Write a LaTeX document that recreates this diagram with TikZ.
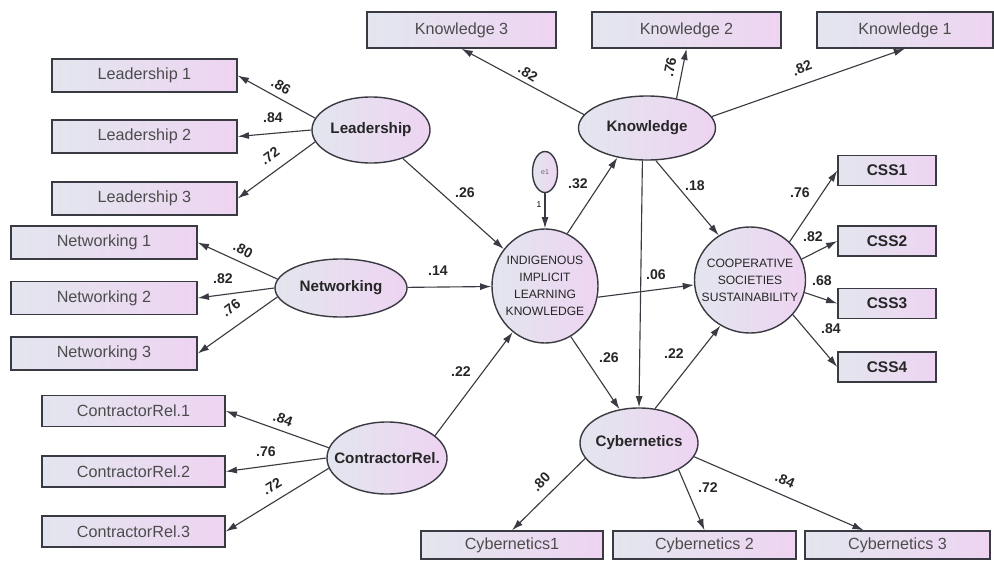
\documentclass[tikz,border=0pt]{standalone}
\usepackage{fontspec}
\setmainfont{Liberation Sans}
\usepackage{tikz}
\usetikzlibrary{arrows.meta,positioning,shapes.geometric}
\definecolor{fillL}{HTML}{E3E6EE}
\definecolor{fillR}{HTML}{EED4F2}
\definecolor{edge}{HTML}{3A3A42}
\tikzset{
  obs/.style={draw=edge, line width=1pt, rectangle, left color=fillL, right color=fillR, inner sep=0pt, font=\fontsize{11.5}{13}\selectfont, text=black!70},
  obsb/.style={obs, font=\bfseries\fontsize{11}{13}\selectfont, text=black!85},
  latbase/.style={draw=edge, line width=1pt, ellipse, left color=fillL, right color=fillR, inner sep=0pt},
  lat/.style={latbase, label={[font=\bfseries\fontsize{10.8}{13}\selectfont, text=black!85]center:#1}},
  latsm/.style={latbase, label={[font=\fontsize{8.6}{12}\selectfont, text=black!85, align=center]center:#1}},
  coef/.style={font=\bfseries\fontsize{10}{12}\selectfont, text=black!85, inner sep=1pt},
  arrow/.style={-{Latex[length=8pt,width=5pt]}, draw=edge, line width=0.8pt}
}
\begin{document}
\begin{tikzpicture}[x=0.025cm, y=-0.025cm]
    \useasboundingbox (0,0) rectangle (994,560);

    % latent variables
    \node[lat=Leadership, minimum width=2.95cm, minimum height=1.65cm] (Lead) at (371,130) {};
    \node[lat=Networking, minimum width=3.3cm, minimum height=1.45cm] (Net) at (341,288) {};
    \node[lat=ContractorRel., minimum width=3.0cm, minimum height=1.8cm] (Con) at (387,458) {};
    \node[lat=Knowledge, minimum width=3.425cm, minimum height=1.6cm] (Know) at (647,128) {};
    \node[lat=Cybernetics, minimum width=2.95cm, minimum height=1.75cm] (Cyb) at (639,443) {};
    \node[latsm={INDIGENOUS\\IMPLICIT\\LEARNING\\KNOWLEDGE}, minimum width=2.65cm, minimum height=2.85cm] (IILK) at (545,286) {};
    \node[latsm={COOPERATIVE\\SOCIETIES\\SUSTAINABILITY}, minimum width=2.775cm, minimum height=2.65cm] (CSS) at (750,280) {};
    \node[latbase, minimum width=0.625cm, minimum height=1.025cm, label={[font=\fontsize{5}{6}\selectfont, text=black!60]center:e1}] (e1) at (545,172) {};
    \node[font=\fontsize{6}{7}\selectfont, inner sep=0pt] (one) at (539,205) {1};

    % Leadership items
    \node[obs, minimum width=4.625cm, minimum height=0.825cm] (L1) at (144.5,75.5) {Leadership 1};
    \node[obs, minimum width=4.625cm, minimum height=0.825cm] (L2) at (144.5,136.5) {Leadership 2};
    \node[obs, minimum width=4.625cm, minimum height=0.825cm] (L3) at (144.5,198.5) {Leadership 3};
    % Networking items
    \node[obs, minimum width=4.65cm, minimum height=0.825cm] (N1) at (104,242.5) {Networking 1};
    \node[obs, minimum width=4.65cm, minimum height=0.825cm] (N2) at (104,298) {Networking 2};
    \node[obs, minimum width=4.65cm, minimum height=0.825cm] (N3) at (104,353.5) {Networking 3};
    % ContractorRel items
    \node[obs, minimum width=4.575cm, minimum height=0.775cm] (C1) at (133.5,411) {ContractorRel.1};
    \node[obs, minimum width=4.575cm, minimum height=0.775cm] (C2) at (133.5,471.5) {ContractorRel.2};
    \node[obs, minimum width=4.575cm, minimum height=0.775cm] (C3) at (133.5,531.5) {ContractorRel.3};
    % Knowledge items
    \node[obs, minimum width=4.725cm, minimum height=0.9cm] (K3) at (461.5,30) {Knowledge 3};
    \node[obs, minimum width=4.725cm, minimum height=0.9cm] (K2) at (686.5,30) {Knowledge 2};
    \node[obs, minimum width=4.4cm, minimum height=0.9cm] (K1) at (905,30) {Knowledge 1};
    % CSS items
    \node[obsb, minimum width=2.45cm, minimum height=0.75cm] (S1) at (887,170.5) {CSS1};
    \node[obsb, minimum width=2.45cm, minimum height=0.75cm] (S2) at (887,241) {CSS2};
    \node[obsb, minimum width=2.45cm, minimum height=0.75cm] (S3) at (887,303.5) {CSS3};
    \node[obsb, minimum width=2.45cm, minimum height=0.75cm] (S4) at (887,367) {CSS4};
    % Cybernetics items
    \node[obs, minimum width=4.55cm, minimum height=0.7cm] (Y1) at (512,545) {Cybernetics1};
    \node[obs, minimum width=4.575cm, minimum height=0.7cm] (Y2) at (704.5,545) {Cybernetics 2};
    \node[obs, minimum width=4.625cm, minimum height=0.7cm] (Y3) at (897.5,545) {Cybernetics 3};

    % measurement arrows
    \draw[arrow] (Lead.168) -- (L1.east);
    \draw[arrow] (Lead.west) -- (L2.east);
    \draw[arrow] (Lead.192) -- (L3.east);
    \draw[arrow] (Net.172) -- (N1.east);
    \draw[arrow] (Net.west) -- (N2.east);
    \draw[arrow] (Net.188) -- (N3.east);
    \draw[arrow] (Con.170) -- (C1.east);
    \draw[arrow] (Con.west) -- (C2.east);
    \draw[arrow] (Con.190) -- (C3.east);
    \draw[arrow] (Know.168) -- (K3.south);
    \draw[arrow] (Know.45) -- (K2.south);
    \draw[arrow] (Know.10) -- (K1.south);
    \draw[arrow] (CSS.44) -- (S1.west);
    \draw[arrow] (CSS.22) -- (S2.west);
    \draw[arrow] (CSS.-13) -- (S3.west);
    \draw[arrow] (CSS.-39) -- (S4.west);
    \draw[arrow] (Cyb.196) -- (Y1.north);
    \draw[arrow] (Cyb.326) -- (Y2.north);
    \draw[arrow] (Cyb.346) -- (Y3);

    % structural arrows
    \draw[arrow] (Lead) -- (IILK);
    \draw[arrow] (Net) -- (IILK);
    \draw[arrow] (Con.25) -- (IILK.235);
    \draw[arrow] (e1) -- (IILK);
    \draw[arrow] (IILK.67) -- (Know.225);
    \draw[arrow] (IILK.-12) -- (CSS.185);
    \draw[arrow] (IILK.297) -- (Cyb.120);
    \draw[arrow] (Know.285) -- (CSS.125);
    \draw[arrow] (Know.262) -- (Cyb.north);
    \draw[arrow] (Cyb.65) -- (CSS.237);

    % loadings
    \node[coef, rotate=-29.5] (cL1) at (281,86) {.86};
    \node[coef] (cL2) at (273,118) {.84};
    \node[coef, rotate=36] (cL3) at (270,156) {.72};
    \node[coef, rotate=-27] (cN1) at (243,250) {.80};
    \node[coef] (cN2) at (223,279) {.82};
    \node[coef, rotate=37] (cN3) at (231,308) {.76};
    \node[coef, rotate=-20] (cC1) at (283,419) {.84};
    \node[coef] (cC2) at (266,452) {.76};
    \node[coef, rotate=31] (cC3) at (272,486) {.72};
    \node[coef, rotate=-32] (cK3) at (528,73) {.82};
    \node[coef, rotate=79] (cK2) at (670,67) {.76};
    \node[coef, rotate=21] (cK1) at (802,68) {.82};
    \node[coef] (cS1) at (800,193) {.76};
    \node[coef] (cS2) at (813,237) {.82};
    \node[coef] (cS3) at (822,281) {.68};
    \node[coef] (cS4) at (831,329) {.84};
    \node[coef, rotate=46] (cY1) at (541,482) {.80};
    \node[coef] (cY2) at (708,488) {.72};
    \node[coef, rotate=-24] (cY3) at (785,480) {.84};

    % paths
    \node[coef] (pLead) at (465,193) {.26};
    \node[coef] (pNet) at (438,271) {.14};
    \node[coef] (pCon) at (461,372) {.22};
    \node[coef] (pKnow) at (578,184) {.32};
    \node[coef] (pKC) at (695,186) {.18};
    \node[coef] (pCSS) at (656,275) {.06};
    \node[coef] (pCyb) at (609,358) {.26};
    \node[coef] (pYC) at (674,354) {.22};
\end{tikzpicture}
\end{document}
